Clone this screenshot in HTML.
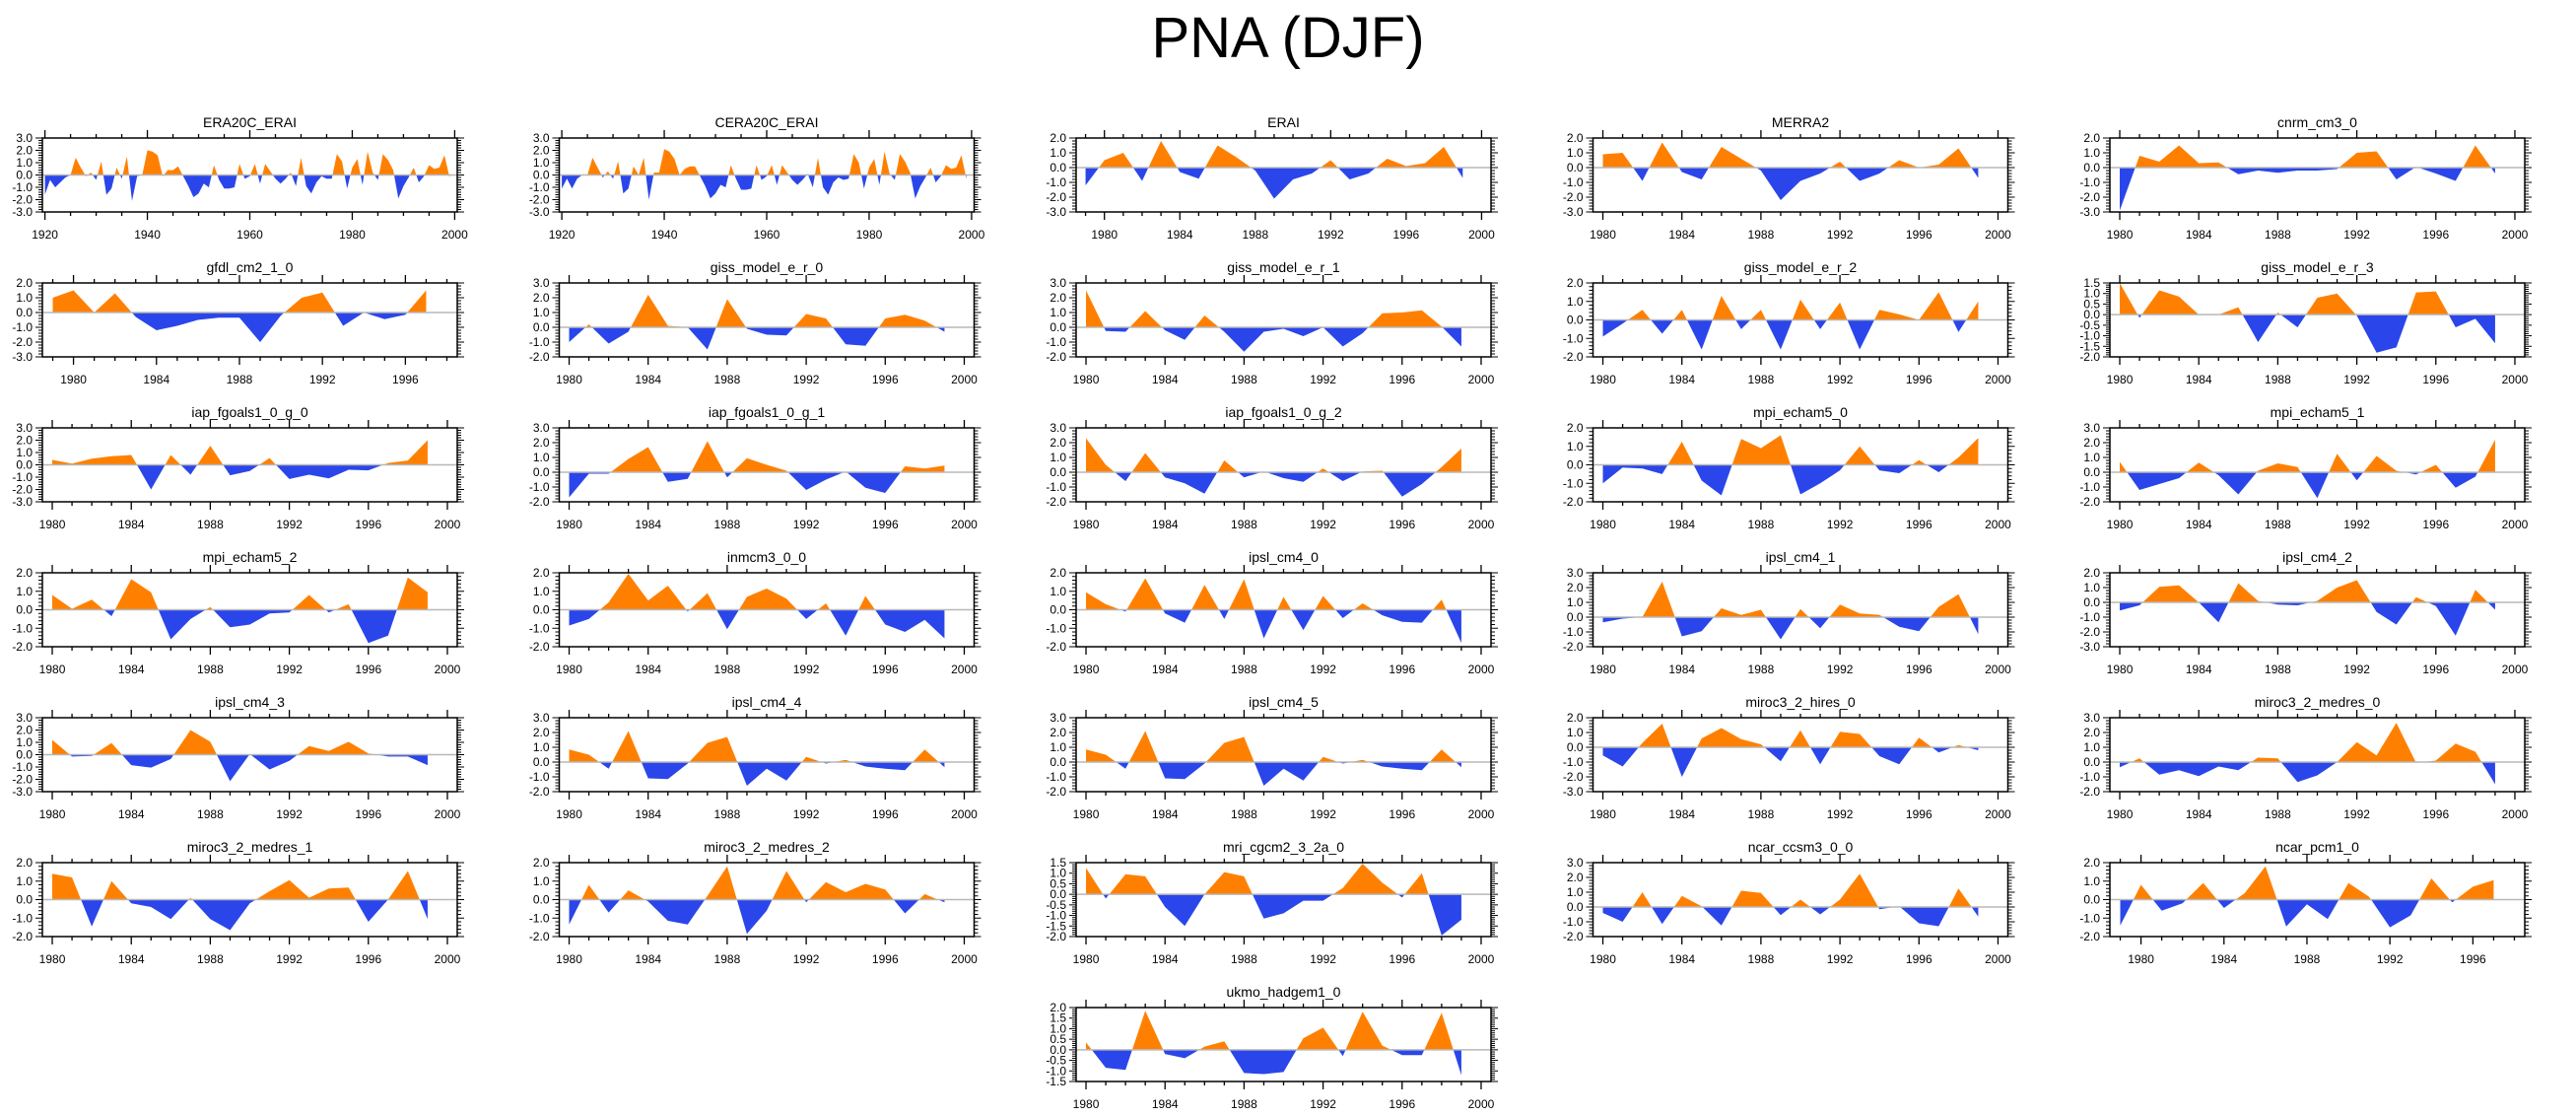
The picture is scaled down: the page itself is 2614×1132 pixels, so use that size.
<!DOCTYPE html>
<html><head><meta charset="utf-8"><style>
html,body{margin:0;padding:0;background:#fff;}
svg{display:block;font-family:"Liberation Sans",Arial,sans-serif;}
</style></head><body>
<svg id="fig" width="2614" height="1132" viewBox="0 0 2614 1132" xmlns="http://www.w3.org/2000/svg">
<text x="1307" y="58" font-size="58" text-anchor="middle">PNA (DJF)</text>
</svg>
<script>
const names=["ERA20C_ERAI","CERA20C_ERAI","ERAI","MERRA2","cnrm_cm3_0","gfdl_cm2_1_0","giss_model_e_r_0","giss_model_e_r_1","giss_model_e_r_2","giss_model_e_r_3","iap_fgoals1_0_g_0","iap_fgoals1_0_g_1","iap_fgoals1_0_g_2","mpi_echam5_0","mpi_echam5_1","mpi_echam5_2","inmcm3_0_0","ipsl_cm4_0","ipsl_cm4_1","ipsl_cm4_2","ipsl_cm4_3","ipsl_cm4_4","ipsl_cm4_5","miroc3_2_hires_0","miroc3_2_medres_0","miroc3_2_medres_1","miroc3_2_medres_2","mri_cgcm2_3_2a_0","ncar_ccsm3_0_0","ncar_pcm1_0","ukmo_hadgem1_0"];
const startYears=[1920,1920,1979,1980,1980,1979,1980,1980,1980,1980,1980,1980,1980,1980,1980,1980,1980,1980,1980,1980,1980,1980,1980,1980,1980,1980,1980,1980,1980,1979,1980];
const yMins=[-3,-3,-3,-3,-3,-3,-2,-2,-2,-2,-3,-2,-2,-2,-2,-2,-2,-2,-2,-3,-3,-2,-2,-3,-2,-2,-2,-2,-2,-2,-1.5];
const yMaxs=[3,3,2,2,2,2,3,3,2,1.5,3,3,3,2,3,2,2,2,3,2,3,3,3,2,3,2,2,1.5,3,2,2];
const ySteps=[1,1,1,1,1,1,1,1,1,0.5,1,1,1,1,1,1,1,1,1,1,1,1,1,1,1,1,1,0.5,1,1,0.5];
const s0=[-1.6,-0.4,-1.0,-0.6,-0.2,0.0,1.4,0.6,-0.1,0.2,-0.4,1.1,-1.6,-1.1,0.6,-0.3,1.5,-2.1,-0.1,0.0,2.0,1.9,1.6,-0.1,0.4,0.4,0.7,-0.1,-0.9,-1.8,-1.5,-0.7,-1.0,0.8,-0.4,-1.1,-1.1,-1.0,0.9,-0.3,-0.1,0.9,-0.7,0.9,0.3,-0.3,-0.7,-0.3,0.2,-0.9,1.4,-0.9,-1.5,-0.6,-0.1,-0.3,-0.3,1.7,1.1,-1.1,0.6,1.3,-0.8,1.9,0.2,-0.4,1.7,1.2,0.4,-1.9,-0.9,-0.2,0.6,-0.6,-0.1,0.8,0.5,0.6,1.6,-0.2];
const s1=[-1.1,-0.3,-1.1,-0.3,0.0,0.0,1.4,0.6,-0.2,0.3,-0.3,1.1,-1.5,-1.1,0.7,0.0,1.4,-2.0,0.2,0.2,2.1,1.9,1.3,0.0,0.5,0.7,0.7,-0.1,-0.9,-1.9,-1.5,-0.8,-1.0,0.8,-0.3,-1.2,-1.2,-1.1,0.8,-0.4,-0.1,0.8,-0.8,0.8,0.2,-0.4,-0.8,-0.4,0.1,-1.0,1.4,-1.0,-1.6,-0.6,-0.2,-0.4,-0.3,1.7,1.0,-1.1,0.6,1.3,-0.8,1.9,0.1,-0.4,1.7,1.1,0.2,-1.9,-0.9,-0.2,0.6,-0.6,-0.1,0.8,0.5,0.6,1.6,-0.3];
const s2=[-1.2,0.5,1.0,-0.9,1.8,-0.3,-0.75,1.5,0.7,-0.2,-2.1,-0.8,-0.4,0.5,-0.8,-0.4,0.6,0.1,0.3,1.4,-0.7];
const s3=[0.9,1.0,-0.9,1.7,-0.3,-0.8,1.4,0.6,-0.2,-2.2,-0.9,-0.4,0.4,-0.9,-0.4,0.5,0.0,0.2,1.3,-0.7];
const s4=[-2.9,0.8,0.4,1.5,0.3,0.35,-0.45,-0.2,-0.35,-0.2,-0.2,-0.1,1.0,1.1,-0.8,0.05,-0.4,-0.9,1.5,-0.4];
const s5=[1.0,1.5,0.0,1.3,-0.3,-1.2,-0.9,-0.5,-0.35,-0.35,-2.0,-0.2,1.0,1.35,-0.9,0.0,-0.45,-0.15,1.5];
const s6=[-1.0,0.2,-1.1,-0.3,2.2,0.1,0.0,-1.5,1.9,-0.1,-0.5,-0.55,0.9,0.6,-1.15,-1.25,0.6,0.85,0.45,-0.3];
const s7=[2.5,-0.25,-0.3,1.1,-0.2,-0.85,0.8,-0.3,-1.65,-0.3,-0.1,-0.6,0.0,-1.3,-0.4,0.95,1.0,1.15,0.05,-1.3];
const s8=[-0.9,-0.2,0.55,-0.75,0.55,-1.6,1.3,-0.5,0.55,-1.6,1.1,-0.5,0.95,-1.6,0.55,0.3,0.0,1.5,-0.65,1.0];
const s9=[1.5,-0.15,1.15,0.85,0.0,0.0,0.35,-1.3,0.1,-0.6,0.8,1.0,-0.05,-1.8,-1.55,1.05,1.1,-0.6,-0.2,-1.35];
const s10=[0.4,0.1,0.5,0.7,0.8,-2.0,0.8,-0.8,1.55,-0.85,-0.5,0.55,-1.15,-0.8,-1.1,-0.4,-0.45,0.15,0.35,2.0];
const s11=[-1.7,-0.1,-0.1,0.9,1.7,-0.65,-0.45,2.1,-0.35,0.95,0.5,0.1,-1.2,-0.5,0.05,-1.05,-1.4,0.4,0.25,0.45];
const s12=[2.3,0.5,-0.6,1.3,-0.35,-0.75,-1.45,0.8,-0.35,0.05,-0.4,-0.65,0.25,-0.6,0.05,0.1,-1.65,-0.8,0.35,1.6];
const s13=[-1.0,-0.15,-0.2,-0.5,1.25,-0.85,-1.65,1.4,0.9,1.6,-1.6,-1.0,-0.3,1.0,-0.3,-0.45,0.25,-0.4,0.4,1.45];
const s14=[0.7,-1.2,-0.8,-0.4,0.65,-0.2,-1.5,0.1,0.6,0.35,-1.75,1.25,-0.55,1.1,0.1,-0.15,0.5,-1.05,-0.3,2.2];
const s15=[0.8,0.05,0.55,-0.35,1.65,0.95,-1.6,-0.5,0.15,-0.95,-0.8,-0.2,-0.15,0.8,-0.15,0.3,-1.8,-1.4,1.75,0.95];
const s16=[-0.85,-0.5,0.4,1.95,0.5,1.3,-0.1,0.9,-1.05,0.7,1.15,0.6,-0.5,0.35,-1.4,0.75,-0.8,-1.2,-0.55,-1.55];
const s17=[0.95,0.3,-0.1,1.7,-0.2,-0.7,1.35,-0.5,1.65,-1.55,0.7,-1.1,0.75,-0.45,0.35,-0.3,-0.65,-0.7,0.55,-1.8];
const s18=[-0.35,-0.1,0.0,2.4,-1.3,-0.95,0.6,0.15,0.5,-1.5,0.55,-0.75,0.85,0.25,0.15,-0.65,-0.95,0.7,1.55,-1.15];
const s19=[-0.55,-0.2,1.05,1.15,0.0,-1.35,1.3,0.1,-0.15,-0.2,0.1,1.0,1.5,-0.65,-1.5,0.35,-0.25,-2.25,0.85,-0.5];
const s20=[1.2,-0.15,-0.1,0.95,-0.85,-1.05,-0.35,2.0,1.05,-2.15,0.05,-1.2,-0.5,0.7,0.3,1.05,0.1,-0.15,-0.15,-0.85];
const s21=[0.85,0.5,-0.45,2.1,-1.1,-1.15,-0.1,1.3,1.7,-1.6,-0.45,-1.25,0.35,-0.1,0.15,-0.3,-0.45,-0.55,0.85,-0.35];
const s22=[0.85,0.5,-0.45,2.1,-1.1,-1.15,-0.1,1.3,1.7,-1.6,-0.45,-1.25,0.35,-0.1,0.15,-0.3,-0.45,-0.55,0.85,-0.35];
const s23=[-0.55,-1.3,0.3,1.6,-2.0,0.6,1.3,0.55,0.2,-0.95,1.15,-1.15,1.05,0.9,-0.6,-1.15,0.65,-0.35,0.15,-0.2];
const s24=[-0.35,0.25,-0.85,-0.55,-0.95,-0.3,-0.55,0.3,0.25,-1.35,-0.9,0.0,1.35,0.45,2.65,-0.05,0.1,1.25,0.7,-1.5];
const s25=[1.4,1.2,-1.45,1.0,-0.2,-0.4,-1.05,0.1,-1.05,-1.65,-0.2,0.45,1.05,0.1,0.6,0.65,-1.2,0.0,1.55,-1.05];
const s26=[-1.35,0.8,-0.7,0.5,-0.1,-1.15,-1.35,0.2,1.8,-1.85,-0.6,1.55,-0.15,0.95,0.4,0.85,0.55,-0.75,0.3,-0.15];
const s27=[1.25,-0.2,0.95,0.85,-0.6,-1.5,0.0,1.05,0.85,-1.15,-0.9,-0.3,-0.3,0.3,1.45,0.55,-0.15,1.0,-1.95,-1.2];
const s28=[-0.4,-1.0,1.0,-1.15,0.75,0.05,-1.25,1.1,0.95,-0.55,0.5,-0.5,0.5,2.25,-0.15,0.05,-1.1,-1.3,1.25,-0.65];
const s29=[-1.4,0.8,-0.6,-0.2,0.9,-0.45,0.35,1.8,-1.45,-0.25,-1.05,0.9,0.15,-1.5,-0.85,1.15,-0.15,0.7,1.05];
const s30=[0.35,-0.85,-0.95,1.85,-0.2,-0.4,0.15,0.4,-1.1,-1.15,-1.05,0.55,1.05,-0.3,1.8,0.2,-0.25,-0.25,1.75,-1.2];
const series=[s0,s1,s2,s3,s4,s5,s6,s7,s8,s9,s10,s11,s12,s13,s14,s15,s16,s17,s18,s19,s20,s21,s22,s23,s24,s25,s26,s27,s28,s29,s30];

const NS="http://www.w3.org/2000/svg";
const svg=document.getElementById('fig');
function mk(tag,attrs,parent){const e=document.createElementNS(NS,tag);for(const k in attrs)e.setAttribute(k,attrs[k]);(parent||svg).appendChild(e);return e;}
const W=421,H=75;
names.forEach((nm,i)=>{
  let r,c;
  if(i<30){r=Math.floor(i/5);c=i%5;}else{r=6;c=2;}
  const x0=43+524.5*c, y0=140+147*r;
  const vals=series[i], st=startYears[i];
  const xmin=st-0.5, xmax=st+vals.length-1+1.5;
  const ymin=yMins[i], ymax=yMaxs[i];
  const X=v=>x0+(v-xmin)/(xmax-xmin)*W;
  const Y=v=>y0+H-(v-ymin)/(ymax-ymin)*H;
  const g=mk('g',{});
  
  
  const t=mk('text',{x:x0+W/2,y:y0-11,'font-size':14,'text-anchor':'middle'},g);
  
  
  t.textContent=nm;
  // fills
  const cid='c'+i;
  const defs=mk('defs',{},g);
  const cpA=mk('clipPath',{id:cid+'a'},defs);
  mk('rect',{x:x0,y:y0,width:W,height:Y(0)-y0},cpA);
  const cpB=mk('clipPath',{id:cid+'b'},defs);
  mk('rect',{x:x0,y:Y(0),width:W,height:y0+H-Y(0)},cpB);
  let d='M'+X(st)+','+Y(0);
  vals.forEach((v,k)=>{d+=' L'+X(st+k).toFixed(2)+','+Y(v).toFixed(2);});
  d+=' L'+X(st+vals.length-1)+','+Y(0)+' Z';
  const pa=mk('path',{d:d,fill:'#ff8000','clip-path':'url(#'+cid+'a)'},g);
  
  
  const pb=mk('path',{d:d,fill:'#2a46ea','clip-path':'url(#'+cid+'b)'},g);
  
  
  const zl=mk('line',{x1:x0,x2:x0+W,y1:Y(0),y2:Y(0),stroke:'#b8b8b8','stroke-width':1.5},g);
  
  
  mk('rect',{x:x0,y:y0,width:W,height:H,fill:'none',stroke:'#000','stroke-width':1.5},g);
  // x ticks
  const long=(st<1950);
  const maj=long?20:4, mnr=long?5:1;
  const tx0=Math.ceil(xmin/mnr)*mnr;
  for(let v=tx0;v<=xmax+1e-6;v+=mnr){
    const isM=(v%maj===0), L=isM?8:4, x=X(v);
    mk('line',{x1:x,x2:x,y1:y0+H,y2:y0+H+L,stroke:'#000','stroke-width':1.3},g);
    mk('line',{x1:x,x2:x,y1:y0,y2:y0-L,stroke:'#000','stroke-width':1.3},g);
    if(isM){const lb=mk('text',{x:x,y:y0+H+27,'font-size':12,'text-anchor':'middle'},g);
      
      
      lb.textContent=v;}
  }
  // y ticks
  const ys=ySteps[i], ym=ys/5;
  const n=Math.round((ymax-ymin)/ym);
  for(let k=0;k<=n;k++){
    const v=ymin+k*ym, y=Y(v), isM=(k%5===0), L=isM?7:4;
    mk('line',{x1:x0,x2:x0-L,y1:y,y2:y,stroke:'#000','stroke-width':1},g);
    mk('line',{x1:x0+W,x2:x0+W+L,y1:y,y2:y,stroke:'#000','stroke-width':1},g);
    if(isM){const lb=mk('text',{x:x0-10,y:y+4,'font-size':12,'text-anchor':'end'},g);
      
      
      lb.textContent=v.toFixed(1);}
  }
});
</script>
</body></html>
